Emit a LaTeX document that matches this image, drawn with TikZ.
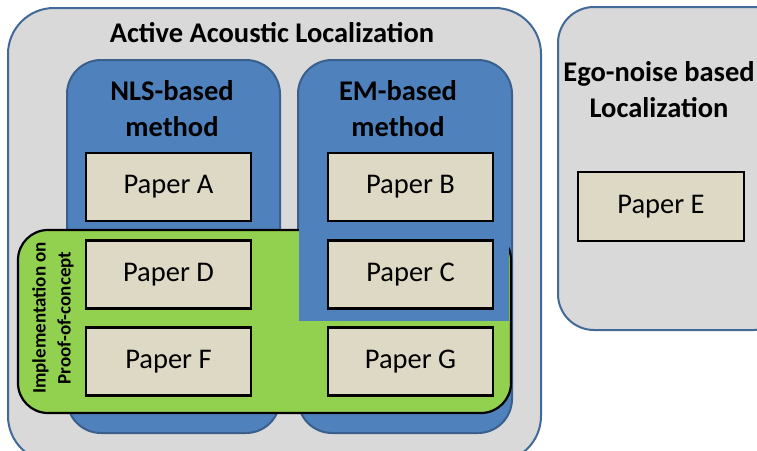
\documentclass[tikz,border=0pt]{standalone}
\usepackage{fontspec}
\setmainfont{Carlito}
\definecolor{grayfill}{HTML}{D9D9D9}
\definecolor{boxedge}{HTML}{41699A}
\definecolor{bluefill}{HTML}{4F81BD}
\definecolor{blueedge}{HTML}{3A5F8D}
\definecolor{greenfill}{HTML}{92D050}
\definecolor{paperfill}{HTML}{DDD9C4}
\tikzset{
  grayarea/.style={fill=grayfill,draw=boxedge,line width=2pt,rounded corners=46pt},
  bluearea/.style={fill=bluefill,draw=blueedge,line width=2pt,rounded corners=34pt},
  greenarea/.style={fill=greenfill,draw=black,line width=2.2pt,rounded corners=30pt},
  paper/.style={draw=black,line width=2.6pt,fill=paperfill,minimum width=165pt,minimum height=68pt,inner sep=0pt,font=\fontsize{28.5}{34}\selectfont},
  heading/.style={font=\bfseries\fontsize{28.5}{36}\selectfont,align=center,inner sep=0pt},
  sidelabel/.style={font=\bfseries\fontsize{19}{25}\selectfont,align=center,inner sep=0pt,rotate=90}
}
\begin{document}
\begin{tikzpicture}[x=1pt,y=-1pt]
\useasboundingbox (0,0) rectangle (757,450);
\begin{scope}
\clip (0,0) rectangle (757,450);
% outer containers
\draw[grayarea] (8,8) rectangle (541,462);
\draw[grayarea,rounded corners=36pt] (558,7) rectangle (790,330);
% method boxes
\draw[bluearea] (67,60) rectangle (280,433);
\draw[bluearea] (298,60) rectangle (512,433);
% proof-of-concept area
\draw[greenarea] (18,230) rectangle (511,413);
\fill[bluefill] (299,227) rectangle (509,321);
\end{scope}
% labels
\node[heading] (title) at (272,33) {Active Acoustic Localization};
\node[heading] (nls) at (172,109) {NLS-based\\method};
\node[heading] (em) at (398,109) {EM-based\\method};
\node[heading] (ego) at (659,90) {Ego-noise based\\Localization};
\node[sidelabel] (poc) at (53,318) {Implementation on\\Proof-of-concept};
% papers
\node[paper] (pa) at (168.5,187) {Paper A};
\node[paper] (pb) at (410.5,187) {Paper B};
\node[paper] (pd) at (168.5,274.5) {Paper D};
\node[paper] (pc) at (410.5,274.5) {Paper C};
\node[paper] (pf) at (168.5,361.5) {Paper F};
\node[paper] (pg) at (410.5,361.5) {Paper G};
\node[paper,minimum width=166pt,minimum height=69pt] (pe) at (661,206.5) {Paper E};
\end{tikzpicture}
\end{document}
